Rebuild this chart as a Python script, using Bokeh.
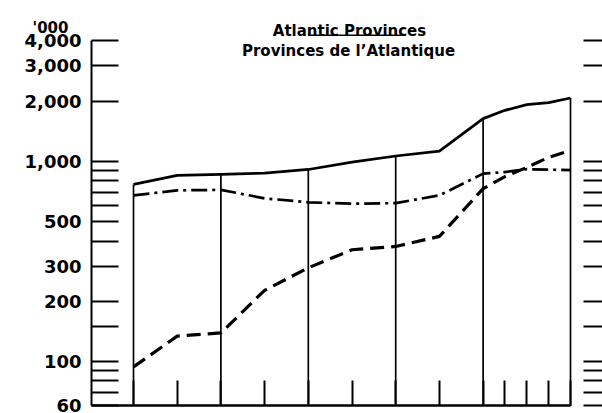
from bokeh.plotting import figure
from bokeh.models import (Range1d, FixedTicker, LogAxis,
                          NumeralTickFormatter, Label, BoxAnnotation)
from bokeh.embed import file_html
from bokeh.resources import INLINE

# ---- data (thousands) ----
years = [1871, 1881, 1891, 1901, 1911, 1921, 1931, 1941, 1951, 1956, 1961, 1966, 1971]
total = [768, 852, 862, 875, 912, 993, 1065, 1127, 1637, 1801, 1923, 1968, 2075]
rural = [677, 717, 721, 654, 625, 615, 619, 677, 869, 885, 915, 910, 905]
urban = [94, 134, 139, 227, 294, 362, 376, 422, 731, 840, 934, 1048, 1136]
full_years = [1871, 1891, 1911, 1931, 1951, 1971]

labeled_ticks = [60, 100, 200, 300, 500, 1000, 2000, 3000, 4000]
unlabeled_ticks = [70, 80, 90, 150, 400, 600, 700, 800, 900]
unit_label = "'000"
title_en = "Atlantic Provinces"
title_fr = "Provinces de l\u2019Atlantique"

FONT = "DejaVu Sans"
INK = "#000000"
W, H = 602, 413

# ranges chosen so that the frame fills the canvas; axes sit at fixed locations
x_start, x_end = 1840.565, 1978.32
y_start, y_end = 55.0, 6374.0
x_axis_left = 1861.39      # where the vertical axis stands
x_right_ticks = 1973.97    # where the free right-hand ticks start
y_base = labeled_ticks[0]
y_top = labeled_ticks[-1]

p = figure(width=W, height=H, y_axis_type="log",
           x_range=Range1d(x_start, x_end), y_range=Range1d(y_start, y_end),
           output_backend="svg", toolbar_location=None, min_border=0)
p.outline_line_color = None
p.grid.visible = False
p.background_fill_color = "white"
p.border_fill_color = "white"

# vertical rules from the base up to the total line
tops = [total[years.index(y)] for y in full_years]
p.segment(x0=full_years, y0=[y_base] * len(full_years),
          x1=full_years, y1=tops, line_color=INK, line_width=1.7)

# series
p.line(years, total, line_color=INK, line_width=2.7, line_join="round")
p.line(years, rural, line_color=INK, line_width=2.7, line_dash="16 5 3 5")
p.line(years, urban, line_color=INK, line_width=3.2, line_dash="14 7")

# x axis: inward ticks only, no labels
xa = p.xaxis[0]
xa.fixed_location = y_base
xa.ticker = FixedTicker(ticks=[], minor_ticks=years)
xa.minor_tick_in = 25
xa.minor_tick_out = 0
xa.minor_tick_line_width = 2
xa.minor_tick_line_color = INK
xa.axis_line_width = 2.5
xa.axis_line_color = INK
xa.bounds = (x_axis_left, years[-1])

# left y axis
ya = p.yaxis[0]
ya.fixed_location = x_axis_left
ya.bounds = (y_base, y_top)
ya.ticker = FixedTicker(ticks=labeled_ticks, minor_ticks=unlabeled_ticks)
ya.formatter = NumeralTickFormatter(format="0,0")
for kind in ("major", "minor"):
    setattr(ya, f"{kind}_tick_in", 27)
    setattr(ya, f"{kind}_tick_out", 0)
    setattr(ya, f"{kind}_tick_line_width", 2)
    setattr(ya, f"{kind}_tick_line_color", INK)
ya.axis_line_width = 2
ya.axis_line_color = INK
ya.major_label_text_font = FONT
ya.major_label_text_font_style = "bold"
ya.major_label_text_font_size = "18px"
ya.major_label_text_color = INK
ya.major_label_standoff = 10

# right free-floating ticks
ra = LogAxis(ticker=FixedTicker(ticks=[], minor_ticks=labeled_ticks + unlabeled_ticks),
             fixed_location=x_right_ticks, bounds=(y_base, y_top),
             axis_line_color=None, minor_tick_in=0, minor_tick_out=19,
             minor_tick_line_width=2, minor_tick_line_color=INK,
             major_tick_line_color=None)
p.add_layout(ra, "right")

# texts (screen units relative to the frame, which fills the canvas)
def add_text(text, cx, baseline, size):
    p.add_layout(Label(x=cx, y=H - baseline, x_units="screen", y_units="screen",
                       text=text, text_align="center",
                       text_baseline="alphabetic", text_font=FONT,
                       text_font_style="bold", text_font_size=size,
                       text_color=INK))

add_text(unit_label, 50, 27, "15px")
add_text(title_en, 349, 30, "15px")
add_text(title_fr, 348, 50, "15px")
p.add_layout(BoxAnnotation(left=308, right=402, bottom=H - 35.5, top=H - 34,
                           left_units="screen", right_units="screen",
                           top_units="screen", bottom_units="screen",
                           fill_color=INK, fill_alpha=1.0, line_color=None))

html = file_html(p, INLINE)
open("out.html", "w").write(html)
